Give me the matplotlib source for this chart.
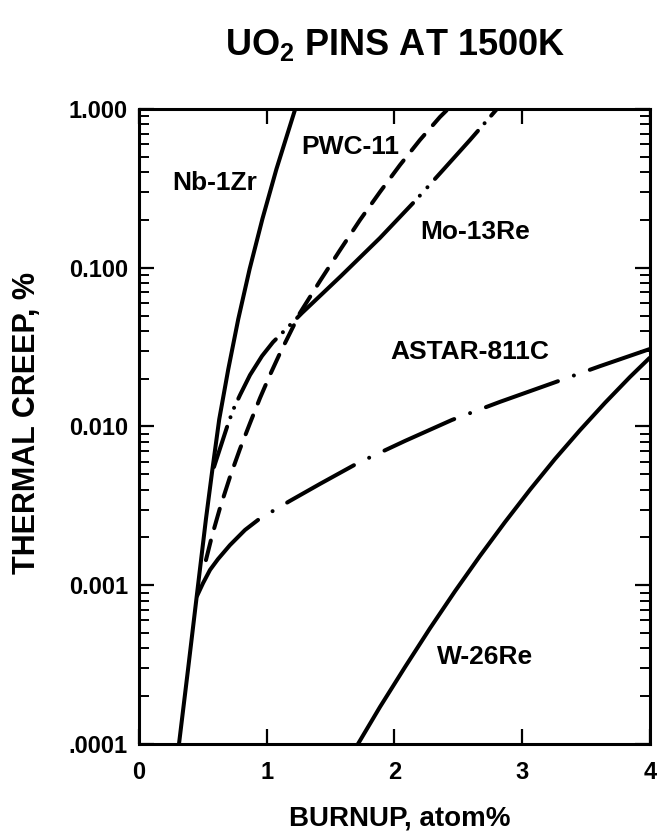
import matplotlib
matplotlib.use("Agg")
import matplotlib.pyplot as plt
import numpy as np

plt.rcParams['font.family'] = ['Liberation Sans', 'DejaVu Sans']
plt.rcParams['font.weight'] = 'bold'
plt.rcParams['mathtext.fontset'] = 'custom'
plt.rcParams['mathtext.rm'] = 'Liberation Sans:bold'
plt.rcParams['mathtext.bf'] = 'Liberation Sans:bold'

# ---- data (burnup atom%, thermal creep %) ----
nb_x = [0.313, 0.384, 0.454, 0.524, 0.575, 0.628, 0.699, 0.777, 0.866, 0.966,
        1.076, 1.223]
nb_y = [1.0e-4, 2.96e-4, 8.81e-4, 2.61e-3, 5.40e-3, 1.11e-2, 2.30e-2, 4.75e-2,
        9.82e-2, 0.203, 0.419, 1.0]

pwc_x = [0.524, 0.571, 0.634, 0.712, 0.790, 0.869, 0.947, 1.025, 1.104, 1.182,
         1.260, 1.417, 1.573, 1.730, 1.886, 2.043, 2.199, 2.356, 2.419]
pwc_y = [1.44e-3, 2.04e-3, 3.07e-3, 4.81e-3, 7.21e-3, 1.05e-2, 1.51e-2, 2.11e-2,
         2.90e-2, 3.88e-2, 5.19e-2, 8.26e-2, 0.129, 0.200, 0.300, 0.444, 0.638,
         0.891, 1.0]

mo_x = [0.587, 0.689, 0.736, 0.791, 0.869, 0.963, 1.049, 1.143, 1.276, 1.581,
        1.886, 2.160, 2.380, 2.591, 2.802]
mo_y = [5.56e-3, 9.93e-3, 1.27e-2, 1.58e-2, 2.11e-2, 2.78e-2, 3.40e-2, 4.05e-2,
        5.19e-2, 8.87e-2, 0.154, 0.263, 0.413, 0.638, 1.0]

astar_x = [0.454, 0.501, 0.556, 0.618, 0.712, 0.830, 0.932, 1.049, 1.182, 1.417,
           1.714, 2.082, 2.450, 2.826, 3.241, 3.609, 4.0]
astar_y = [8.55e-4, 1.03e-3, 1.25e-3, 1.46e-3, 1.79e-3, 2.23e-3, 2.58e-3, 2.94e-3,
           3.40e-3, 4.35e-3, 5.89e-3, 8.11e-3, 1.10e-2, 1.43e-2, 1.88e-2, 2.40e-2,
           3.08e-2]

w_x = [1.714, 1.886, 2.082, 2.278, 2.474, 2.669, 2.865, 3.061, 3.256, 3.452,
       3.648, 3.843, 4.0]
w_y = [1.0e-4, 1.71e-4, 3.05e-4, 5.36e-4, 9.18e-4, 1.53e-3, 2.50e-3, 4.00e-3,
       6.24e-3, 9.48e-3, 1.41e-2, 2.05e-2, 2.72e-2]

x_ticks = [0, 1, 2, 3, 4]
x_ticklabels = ['0', '1', '2', '3', '4']
y_ticks = [1e-4, 1e-3, 1e-2, 1e-1, 1.0]
y_ticklabels = ['.0001', '0.001', '0.010', '0.100', '1.000']

# ---- figure ----
W, H = 658, 836
fig = plt.figure(figsize=(W / 100, H / 100), dpi=100)
L, R, T, B = 139, 650, 109, 744
ax = fig.add_axes([L / W, 1 - B / H, (R - L) / W, (B - T) / H])

lw = 2.9
k = 'black'
ax.plot(nb_x, nb_y, color=k, lw=lw, solid_capstyle='butt', solid_joinstyle='round')
ax.plot(w_x, w_y, color=k, lw=lw, solid_capstyle='butt', solid_joinstyle='round')
ax.plot(pwc_x, pwc_y, color=k, lw=lw, linestyle=(0, (5.0, 3.2)),
        dash_capstyle='round')
d = 0.01
ax.plot(mo_x, mo_y, color=k, lw=lw,
        linestyle=(7, (17.5, 2.5, d, 2.5, d, 2.5,
                       17.5, 2.5, d, 2.5, d, 2.5,
                       40.5, 2.5, d, 2.8, d, 2.8,
                       16.0, 2.5, d, 2.5)),
        dash_capstyle='round')
# ASTAR-811C: solid near its origin, dash-dot thereafter
ax.plot(astar_x[:7], astar_y[:7], color=k, lw=lw, solid_capstyle='round',
        solid_joinstyle='round')
ax.plot(astar_x[6:], astar_y[6:], color=k, lw=lw,
        linestyle=(19, (19, 4.2, 0.01, 4.2)), dash_capstyle='round')

ax.set_yscale('log')
ax.set_xlim(0, 4)
ax.set_ylim(1e-4, 1.0)

ax.set_xticks(x_ticks)
ax.set_xticklabels(x_ticklabels)
ax.set_yticks(y_ticks)
ax.set_yticklabels(y_ticklabels)
ax.yaxis.set_minor_locator(matplotlib.ticker.LogLocator(base=10, subs=np.arange(2, 10)))
ax.yaxis.set_minor_formatter(matplotlib.ticker.NullFormatter())
ax.xaxis.set_minor_locator(matplotlib.ticker.NullLocator())

ax.tick_params(axis='both', which='major', direction='in', length=11, width=1.6,
               top=True, right=True, color=k)
ax.tick_params(axis='y', which='minor', direction='in', length=7, width=1.4,
               left=True, right=True, color=k)
ax.tick_params(axis='y', which='major', labelsize=17, pad=8)
ax.tick_params(axis='x', which='major', labelsize=17, pad=12)
for lab in ax.get_xticklabels() + ax.get_yticklabels():
    lab.set_fontweight('bold')

for s in ax.spines.values():
    s.set_linewidth(2.2)

# curve labels
fs = 19
ax.text(0.595, 0.342, 'Nb-1Zr', fontsize=fs, fontweight='bold', ha='center', va='center')
ax.text(1.652, 0.576, 'PWC-11', fontsize=fs, fontweight='bold', ha='center', va='center')
ax.text(2.630, 0.168, 'Mo-13Re', fontsize=fs, fontweight='bold', ha='center', va='center')
ax.text(2.591, 0.0295, 'ASTAR-811C', fontsize=fs, fontweight='bold', ha='center', va='center')
ax.text(2.708, 3.53e-4, 'W-26Re', fontsize=fs, fontweight='bold', ha='center', va='center')

fig.text(395 / W, 1 - 45 / H, r'UO$_{\mathbf{2}}$ PINS AT 1500K', fontsize=26,
         fontweight='bold', ha='center', va='center')
fig.text(400 / W, 1 - 819 / H, 'BURNUP, atom%', fontsize=20, fontweight='bold',
         ha='center', va='center')
fig.text(27 / W, 1 - 423 / H, 'THERMAL CREEP, %', fontsize=22, fontweight='bold',
         ha='center', va='center', rotation=90)

fig.savefig('out.png', dpi=100)
